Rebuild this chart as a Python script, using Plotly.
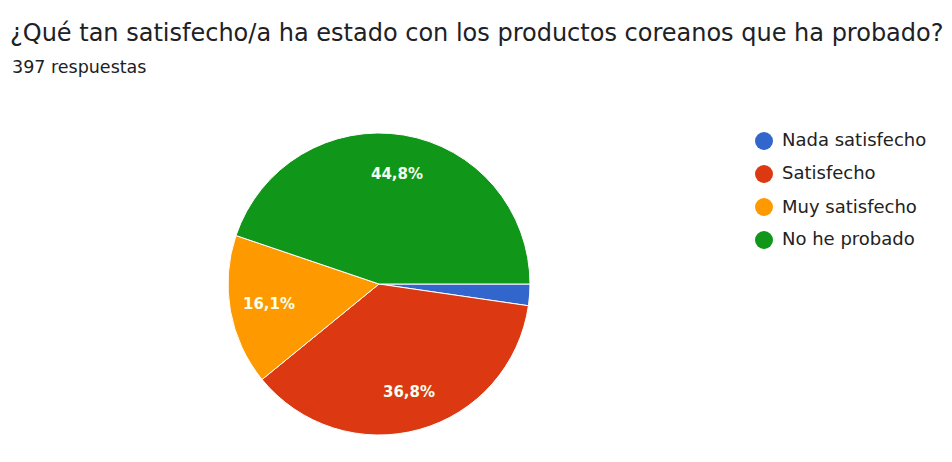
import math
import plotly.graph_objects as go

# Survey answers (share of 397 responses, in %)
labels = ["Nada satisfecho", "Satisfecho", "Muy satisfecho", "No he probado"]
shares = [2.3, 36.8, 16.1, 44.8]
colors = ["#3366cc", "#dc3912", "#ff9900", "#109618"]

title_text = "¿Qué tan satisfecho/a ha estado con los productos coreanos que ha probado?"
subtitle_text = "397 respuestas"

W, H = 952, 462

# Pie placement in pixels (center and radius)
cx, cy, r = 379, 284, 151
start_deg = 90  # first slice starts at 3 o'clock, going clockwise

fig = go.Figure()
fig.add_trace(go.Pie(
    labels=labels,
    values=shares,
    sort=False,
    direction="clockwise",
    rotation=start_deg,
    marker=dict(colors=colors, line=dict(color="white", width=1)),
    textinfo="none",
    domain=dict(x=[(cx - r) / W, (cx + r) / W], y=[1 - (cy + r) / H, 1 - (cy - r) / H]),
    hoverinfo="label+percent",
    showlegend=False,
))

annotations = []

# Percentage labels placed along each slice's mid-angle (slices under 5% stay unlabelled)
total = sum(shares)
cum = 0.0
label_frac = 0.74
for v in shares:
    mid = start_deg + (cum + v / 2) / total * 360.0
    cum += v
    if v / total < 0.05:
        continue
    a = math.radians(mid)
    px = cx + label_frac * r * math.sin(a)
    py = cy - label_frac * r * math.cos(a)
    annotations.append(dict(
        text=f"{v / total * 100:.1f}%".replace(".", ","),
        xref="paper", yref="paper", x=px / W, y=1 - py / H,
        xanchor="center", yanchor="middle", showarrow=False,
        font=dict(family="DejaVu Sans, sans-serif", size=15, color="#f4fff0", weight="bold"),
    ))

# Legend: coloured dots with labels, one row per category
leg_x, leg_y0, leg_dy, dot_r = 764, 141, 33, 9
shapes = []
for i, (lab, col) in enumerate(zip(labels, colors)):
    y = leg_y0 + i * leg_dy
    shapes.append(dict(type="circle", xref="paper", yref="paper",
                       x0=(leg_x - dot_r) / W, x1=(leg_x + dot_r) / W,
                       y0=1 - (y + dot_r) / H, y1=1 - (y - dot_r) / H,
                       fillcolor=col, line=dict(width=0)))
    annotations.append(dict(text=lab, xref="paper", yref="paper",
                            x=(leg_x + 16) / W, y=1 - (y - 1) / H,
                            xanchor="left", yanchor="middle", showarrow=False,
                            font=dict(family="DejaVu Sans, sans-serif", size=18, color="#222222")))

annotations.append(dict(text=title_text, xref="paper", yref="paper",
                        x=8 / W, y=1 - 33 / H, xanchor="left", yanchor="middle", showarrow=False,
                        font=dict(family="DejaVu Sans, sans-serif", size=24, color="#202124")))
annotations.append(dict(text=subtitle_text, xref="paper", yref="paper",
                        x=10 / W, y=1 - 67 / H, xanchor="left", yanchor="middle", showarrow=False,
                        font=dict(family="DejaVu Sans, sans-serif", size=17.5, color="#202124")))

fig.update_layout(
    width=W, height=H,
    margin=dict(l=0, r=0, t=0, b=0),
    paper_bgcolor="white",
    plot_bgcolor="white",
    separators=",.",
    shapes=shapes,
    annotations=annotations,
)

fig.write_html("out.html")
